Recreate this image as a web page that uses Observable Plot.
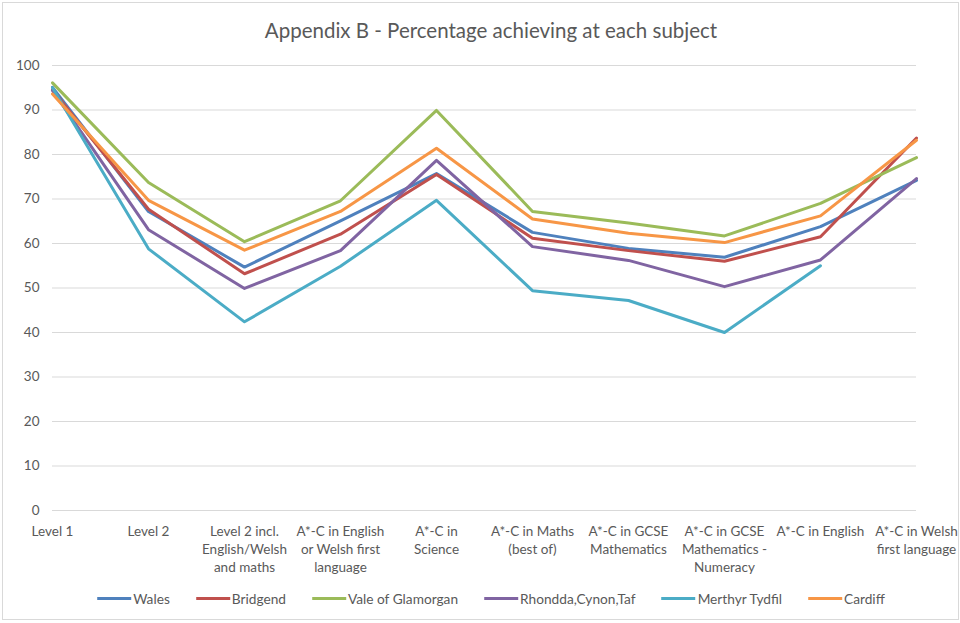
<!DOCTYPE html>
<html>
<head>
<meta charset="utf-8">
<script src="https://cdn.jsdelivr.net/npm/d3@7"></script>
<script src="https://cdn.jsdelivr.net/npm/@observablehq/plot@0.6"></script>
<style>
  html, body { margin: 0; padding: 0; background: #fff; }
  #wrap { position: relative; width: 960px; height: 623px; overflow: hidden; font-family: Lato, "Open Sans", sans-serif; }
  #frame { position: absolute; left: 2px; top: 2px; width: 957px; height: 618px; border: 1px solid #d9d9d9; box-sizing: border-box; pointer-events: none; }
  #title { position: absolute; top: 18px; left: 491px; transform: translateX(-50%); white-space: nowrap; font-size: 20.5px; color: #595959; }
  #legend { position: absolute; top: 590px; left: 491px; transform: translateX(-50%); display: flex; white-space: nowrap; font-size: 13.7px; color: #595959; }
  .item { display: flex; align-items: center; margin-right: 26px; }
  .item:last-child { margin-right: 0; }
  .sw { width: 34px; height: 3px; margin-right: 2px; }
  #chart { position: absolute; left: 0; top: 0; }
</style>
</head>
<body>
<div id="wrap">
  <div id="chart"></div>
  <div id="title">Appendix B - Percentage achieving at each subject</div>
  <div id="legend"></div>
  <div id="frame"></div>
</div>
<script>
const categories = [
  "Level 1",
  "Level 2",
  "Level 2 incl. English/Welsh and maths",
  "A*-C in English or Welsh first language",
  "A*-C in Science",
  "A*-C in Maths (best of)",
  "A*-C in GCSE Mathematics",
  "A*-C in GCSE Mathematics - Numeracy",
  "A*-C in English",
  "A*-C in Welsh first language"
];
const tickLabels = [
  "Level 1",
  "Level 2",
  "Level 2 incl.\nEnglish/Welsh\nand maths",
  "A*-C in English\nor Welsh first\nlanguage",
  "A*-C in\nScience",
  "A*-C in Maths\n(best of)",
  "A*-C in GCSE\nMathematics",
  "A*-C in GCSE\nMathematics -\nNumeracy",
  "A*-C in English",
  "A*-C in Welsh\nfirst language"
];
const seriesNames = ["Wales", "Bridgend", "Vale of Glamorgan", "Rhondda,Cynon,Taf", "Merthyr Tydfil", "Cardiff"];
const seriesColors = ["#4F81BD", "#C0504D", "#9BBB59", "#8064A2", "#4BACC6", "#F79646"];

const wales     = [95.1, 67.2, 54.7, 65.1, 75.7, 62.5, 58.9, 56.9, 63.8, 74.2];
const bridgend  = [94.5, 67.7, 53.2, 62.1, 75.5, 61.2, 58.4, 56.0, 61.5, 83.7];
const vale      = [96.1, 73.7, 60.4, 69.6, 89.9, 67.2, 64.6, 61.7, 69.0, 79.3];
const rhondda   = [94.4, 63.1, 49.9, 58.4, 78.7, 59.3, 56.2, 50.3, 56.3, 74.6];
const merthyr   = [95.0, 58.8, 42.4, 54.9, 69.7, 49.4, 47.2, 40.0, 55.0, null];
const cardiff   = [93.6, 69.7, 58.5, 67.2, 81.4, 65.5, 62.3, 60.2, 66.2, 83.2];

const yTicks = [0, 10, 20, 30, 40, 50, 60, 70, 80, 90, 100];

const seriesValues = [wales, bridgend, vale, rhondda, merthyr, cardiff];
const rows = [];
seriesNames.forEach((s, i) => {
  categories.forEach((c, j) => {
    rows.push({series: s, category: c, value: seriesValues[i][j]});
  });
});
const labelOf = new Map(categories.map((c, i) => [c, tickLabels[i]]));

const chart = Plot.plot({
  width: 960,
  height: 623,
  marginLeft: 52,
  marginRight: 44,
  marginTop: 65,
  marginBottom: 113,
  style: {fontFamily: "Lato, 'Open Sans', sans-serif", background: "transparent"},
  x: {type: "point", domain: categories, padding: 0},
  y: {domain: [0, 100]},
  color: {domain: seriesNames, range: seriesColors},
  marks: [
    Plot.gridY(yTicks, {stroke: "#d9d9d9", strokeOpacity: 1, strokeWidth: 1}),
    Plot.axisY({ticks: yTicks, tickSize: 0, tickPadding: 13, fontSize: 13.5, fill: "#595959", label: null}),
    Plot.axisX({tickSize: 0, tickPadding: 13, fontSize: 13.5, fill: "#595959", label: null, lineHeight: 1.33,
      tickFormat: d => labelOf.get(d)}),
    Plot.line(rows, {x: "category", y: "value", z: "series", stroke: "series", strokeWidth: 3,
      strokeLinejoin: "round", strokeLinecap: "round", defined: d => d.value != null})
  ]
});
document.getElementById("chart").appendChild(chart);

const legend = document.getElementById("legend");
seriesNames.forEach((s, i) => {
  const item = document.createElement("div");
  item.className = "item";
  const sw = document.createElement("div");
  sw.className = "sw";
  sw.style.background = seriesColors[i];
  const tx = document.createElement("span");
  tx.textContent = s;
  item.appendChild(sw);
  item.appendChild(tx);
  legend.appendChild(item);
});
</script>
</body>
</html>
